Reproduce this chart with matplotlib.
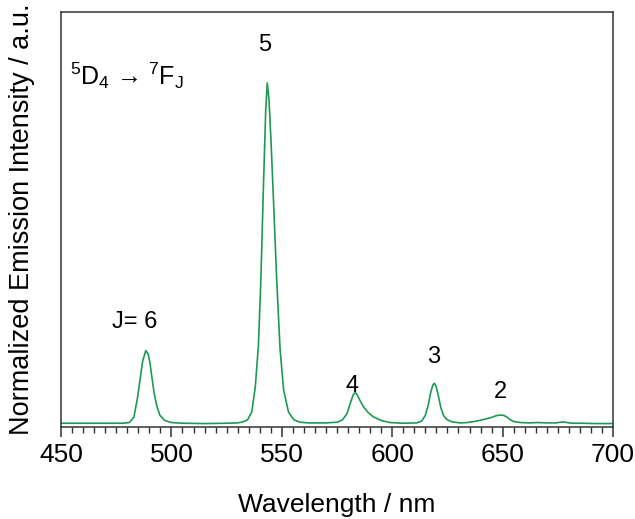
import matplotlib
matplotlib.use("Agg")
import matplotlib.pyplot as plt
from matplotlib.ticker import MultipleLocator

plt.rcParams['font.family'] = ['Liberation Sans', 'DejaVu Sans']
plt.rcParams['mathtext.fontset'] = 'custom'
plt.rcParams['mathtext.rm'] = 'Liberation Sans'
plt.rcParams['mathtext.it'] = 'Liberation Sans'
plt.rcParams['mathtext.default'] = 'regular'

# emission spectrum (normalised to the 5D4->7F5 peak)
wavelength = [450, 460, 470, 478, 481, 483, 484.6, 486, 487, 488.4, 489.5, 490.3,
              491.3, 492.3, 493.5, 494.8, 497, 500, 505, 515, 525, 530, 532.4,
              534.5, 536.4, 538, 539.4, 540.5, 541.6, 542.7, 543.4, 544.2, 545.1,
              546.2, 547.7, 549.2, 550.8, 553, 555.5, 558.2, 562, 570, 575, 577.5,
              579.5, 581, 582.3, 583.2, 584.2, 585.3, 586.9, 589, 591.4, 595, 599,
              605, 611, 613.3, 615, 616.3, 617.5, 618.5, 619.1, 619.9, 620.8, 622,
              623.2, 624.7, 627, 630.7, 634, 638, 642, 645, 647, 648.8, 650.5, 652,
              653.5, 655, 658, 662, 666, 670, 674, 677.5, 681, 686, 692, 700]
intensity = [0.002, 0.002, 0.002, 0.002, 0.004, 0.02, 0.075, 0.14, 0.185, 0.215,
             0.205, 0.178, 0.13, 0.085, 0.05, 0.025, 0.01, 0.004, 0.002, 0.001,
             0.002, 0.003, 0.006, 0.012, 0.035, 0.11, 0.23, 0.42, 0.68, 0.92, 1.0,
             0.95, 0.83, 0.66, 0.42, 0.22, 0.1, 0.035, 0.012, 0.005, 0.003, 0.003,
             0.005, 0.012, 0.03, 0.06, 0.085, 0.092, 0.085, 0.07, 0.051, 0.034,
             0.021, 0.01, 0.004, 0.002, 0.003, 0.008, 0.025, 0.055, 0.095, 0.115,
             0.119, 0.11, 0.085, 0.048, 0.025, 0.013, 0.006, 0.003, 0.004, 0.008,
             0.014, 0.019, 0.024, 0.026, 0.025, 0.02, 0.012, 0.007, 0.004, 0.003,
             0.004, 0.003, 0.003, 0.006, 0.002, 0.002, 0.001, 0.001]

# transition labels J and where they sit (wavelength, intensity)
peak_labels = ['J= 6', '5', '4', '3', '2']
label_x = [483.5, 542.4, 581.8, 618.9, 648.8]
label_y = [0.30, 1.11, 0.11, 0.196, 0.094]

fig = plt.figure(figsize=(6.35, 5.19), dpi=100)
ax = fig.add_axes([0.0961, 0.1773, 0.8693, 0.7996])

ax.plot(wavelength, intensity, color='#1c9a52', lw=1.2)

for txt, x, y in zip(peak_labels, label_x, label_y):
    ax.text(x, y, txt, ha='center', va='center', fontsize=17)

ax.text(454.0, 1.02, r'$^{5}$D$_{4}$ → $^{7}$F$_{J}$', ha='left', va='center',
        fontsize=18)

ax.set_xlim(450, 700)
ax.set_ylim(-0.009, 1.208)
ax.xaxis.set_major_locator(MultipleLocator(50))
ax.xaxis.set_minor_locator(MultipleLocator(5))
ax.tick_params(axis='x', which='major', direction='out', length=7.5, width=1.1,
               labelsize=19, pad=4, color='#333333')
ax.tick_params(axis='x', which='minor', direction='out', length=4.5, width=1.0,
               color='#333333')
ax.set_yticks([])
for s in ax.spines.values():
    s.set_linewidth(1.1)
    s.set_color('#333333')

ax.set_xlabel('Wavelength / nm', fontsize=19, labelpad=19)
ax.set_ylabel('Normalized Emission Intensity / a.u.', fontsize=19.5)
ax.yaxis.set_label_coords(-0.047, 0.5)

fig.savefig('out.png', dpi=100)
